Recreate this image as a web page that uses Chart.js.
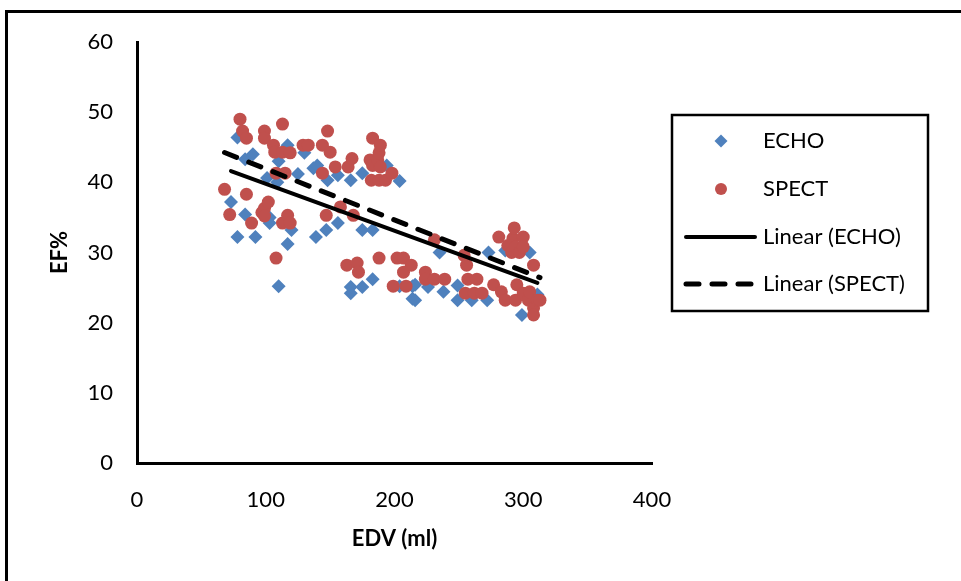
<!DOCTYPE html>
<html>
<head>
<meta charset="utf-8">
<script src="https://cdn.jsdelivr.net/npm/chart.js@4/dist/chart.umd.min.js"></script>
<style>
  body { margin: 0; background: #fff; }
  canvas { display: block; }
</style>
</head>
<body>
<canvas id="efChart" width="961" height="581"></canvas>
<script>
// values
let echoEdv = [73, 78, 78, 84, 84, 90, 92, 101, 103, 103, 109, 110, 110, 117, 117, 120, 125, 130, 137, 139,
               140, 147, 148, 156, 156, 166, 166, 166, 175, 175, 175, 183, 183, 194, 204, 204, 214, 214, 216, 216,
               226, 235, 238, 249, 249, 260, 272, 273, 286, 299, 305, 311];
let echoEf  = [37.2, 46.4, 32.2, 43.3, 35.4, 44, 32.2, 40.6, 35, 34.2, 40, 43, 25.2, 45.3, 31.2, 33.2, 41.2, 44.2, 42, 32.2,
               42.4, 33.2, 40.3, 41, 34.2, 40.3, 25.1, 24.2, 41.3, 33.2, 25.1, 33.2, 26.2, 42.4, 40.2, 25.2, 25.2, 23.4, 25.4, 23.2,
               25.1, 30, 24.4, 25.3, 23.2, 23.2, 23.2, 30, 30.3, 21.1, 30, 24];

let spectEdv = [68, 72, 80, 82, 85, 85, 89, 97, 99, 99, 99, 99, 102, 106, 107, 108, 108, 113, 113, 113,
                115, 117, 119, 119, 129, 133, 144, 148, 150, 144, 147, 154, 158, 164, 167, 168, 163, 171, 172, 181,
                183, 183, 182, 187, 188, 189, 189, 188, 193, 198, 188, 199, 202, 207, 207, 209, 213, 224, 224, 231,
                231, 239, 254, 256, 257, 264, 255, 262, 268, 277, 281, 283, 286, 288, 291, 292, 293, 294, 294, 295,
                297, 300, 300, 300, 304, 305, 308, 308, 308, 311, 313];
let spectEf  = [39, 35.4, 49, 47.3, 46.3, 38.3, 34.2, 35.7, 47.3, 46.3, 36.3, 35.2, 37.2, 45.3, 44.3, 41.3, 29.2, 48.3, 44.3, 34.2,
                41.3, 35.3, 44.2, 34.2, 45.3, 45.3, 45.3, 47.3, 44.3, 41.3, 35.3, 42.2, 36.5, 42.2, 43.4, 35.3, 28.2, 28.5, 27.2, 43.2,
                46.3, 42.4, 40.3, 43.2, 44.2, 45.3, 42.2, 40.3, 40.3, 41.3, 29.2, 25.2, 29.2, 29.2, 27.2, 25.2, 28.2, 27.2, 26.2, 26.2,
                31.8, 26.2, 29.6, 28.2, 26.2, 26.2, 24.2, 24.2, 24.2, 25.4, 32.2, 24.4, 23.2, 31, 30, 32, 33.5, 30.8, 23.2, 25.4,
                30, 32.2, 30.8, 24.2, 23.2, 24.4, 28.2, 22.1, 21.1, 23.2, 23.2];

// linear trend lines: [intercept, slope]
let echoTrend = [46.5, -0.067];
let spectTrend = [49.2, -0.0728];

let seriesNames = ["ECHO", "SPECT", "Linear (ECHO)", "Linear (SPECT)"];
let xTicks = [0, 100, 200, 300, 400];
let yTicks = [0, 10, 20, 30, 40, 50, 60];

const BLUE = "#4F81BD";
const RED = "#C0504D";
const FONT = "Lato, 'Open Sans', sans-serif";

function toPoints(xs, ys) {
    return xs.map((x, i) => ({ x: x, y: ys[i] }));
}

// trend drawn from min x to max x of its series, like Excel does
function trend(xs, coef) {
    let x0 = Math.min(...xs), x1 = Math.max(...xs);
    return [{ x: x0, y: coef[0] + coef[1] * x0 }, { x: x1, y: coef[0] + coef[1] * x1 }];
}

// outer frame + boxed legend
const framePlugin = {
    id: "frame",
    afterDraw(chart) {
        let ctx = chart.ctx;
        ctx.save();
        ctx.strokeStyle = "#000";
        ctx.lineWidth = 3;
        ctx.beginPath();
        ctx.moveTo(6.5, 581);
        ctx.lineTo(6.5, 11.5);
        ctx.lineTo(961, 11.5);
        ctx.stroke();

        // legend box
        ctx.lineWidth = 2.5;
        ctx.strokeRect(672, 115, 256, 196);

        ctx.font = "22px " + FONT;
        ctx.fillStyle = "#000";
        ctx.textBaseline = "middle";
        let rows = [141, 189, 237, 284];
        ctx.fillText(seriesNames[0], 763, rows[0]);
        ctx.fillText(seriesNames[1], 763, rows[1]);
        ctx.fillText(seriesNames[2], 763, rows[2]);
        ctx.fillText(seriesNames[3], 763, rows[3]);

        // diamond
        ctx.fillStyle = BLUE;
        ctx.beginPath();
        ctx.moveTo(721, rows[0] - 6.5);
        ctx.lineTo(727.5, rows[0]);
        ctx.lineTo(721, rows[0] + 6.5);
        ctx.lineTo(714.5, rows[0]);
        ctx.closePath();
        ctx.fill();
        // circle
        ctx.fillStyle = RED;
        ctx.beginPath();
        ctx.arc(721, rows[1], 6, 0, Math.PI * 2);
        ctx.fill();
        // lines
        ctx.strokeStyle = "#000";
        ctx.lineCap = "round";
        ctx.lineWidth = 4;
        ctx.beginPath();
        ctx.moveTo(686, rows[2]);
        ctx.lineTo(755, rows[2]);
        ctx.stroke();
        ctx.lineWidth = 5;
        ctx.setLineDash([13, 13]);
        ctx.beginPath();
        ctx.moveTo(686, rows[3]);
        ctx.lineTo(755, rows[3]);
        ctx.stroke();
        ctx.restore();
    }
};

let ctx = document.getElementById("efChart").getContext("2d");
let chart = new Chart(ctx, {
    type: "scatter",
    data: {
        datasets: [
            {
                label: seriesNames[0],
                data: toPoints(echoEdv, echoEf),
                pointStyle: "rectRot",
                pointRadius: 7,
                backgroundColor: BLUE,
                borderColor: BLUE,
                borderWidth: 0,
                order: 4
            },
            {
                label: seriesNames[1],
                data: toPoints(spectEdv, spectEf),
                pointStyle: "circle",
                pointRadius: 6.5,
                backgroundColor: RED,
                borderColor: RED,
                borderWidth: 0,
                order: 3
            },
            {
                label: seriesNames[2],
                data: trend(echoEdv, echoTrend),
                showLine: true,
                pointRadius: 0,
                borderColor: "#000",
                borderWidth: 4,
                borderCapStyle: "round",
                order: 2
            },
            {
                label: seriesNames[3],
                data: trend(spectEdv, spectTrend),
                showLine: true,
                pointRadius: 0,
                borderColor: "#000",
                borderWidth: 5,
                borderDash: [13, 13],
                borderCapStyle: "round",
                order: 1
            }
        ]
    },
    options: {
        responsive: false,
        animation: false,
        layout: { padding: { left: 0, top: 42, right: 309, bottom: 0 } },
        plugins: {
            legend: { display: false },
            tooltip: { enabled: false }
        },
        scales: {
            x: {
                type: "linear",
                min: 0,
                max: 400,
                afterBuildTicks: (scale) => { scale.ticks = xTicks.map(v => ({ value: v })); },
                afterFit: (scale) => { scale.height = 118; },
                grid: { display: false, drawTicks: false },
                border: { display: true, color: "#000", width: 3 },
                ticks: { color: "#000", padding: 24, font: { family: FONT, size: 22 } },
                title: {
                    display: true,
                    text: "EDV (ml)",
                    color: "#000",
                    font: { family: FONT, size: 22, weight: "bold" },
                    padding: { top: 0, bottom: 29 }
                }
            },
            y: {
                type: "linear",
                min: 0,
                max: 60,
                afterBuildTicks: (scale) => { scale.ticks = yTicks.map(v => ({ value: v })); },
                afterFit: (scale) => { scale.width = 137; },
                grid: { display: false, drawTicks: false },
                border: { display: true, color: "#000", width: 3 },
                ticks: { color: "#000", padding: 24, font: { family: FONT, size: 22 } },
                title: {
                    display: true,
                    text: "EF%",
                    color: "#000",
                    font: { family: FONT, size: 22, weight: "bold" },
                    padding: { top: 47, bottom: 0 }
                }
            }
        }
    },
    plugins: [framePlugin]
});
</script>
</body>
</html>
